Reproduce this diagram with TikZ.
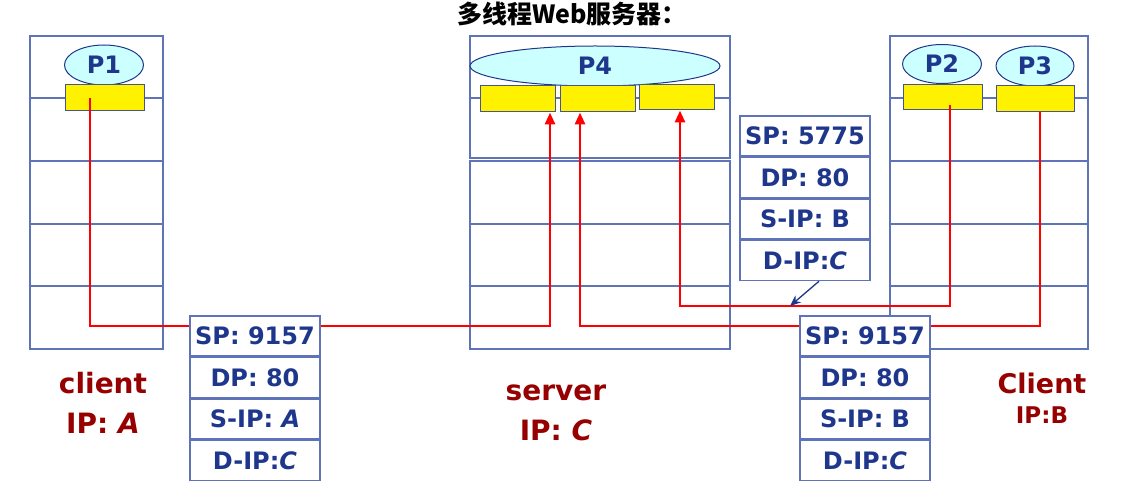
\documentclass[tikz,border=0pt]{standalone}
\usepackage{fontspec}
\setmainfont{DejaVu Sans}
\newfontfamily\cjkfont{Noto Sans CJK SC}
\usetikzlibrary{shapes.geometric,positioning,arrows.meta}
\definecolor{framecol}{RGB}{95,115,185}
\definecolor{navy}{RGB}{30,55,140}
\definecolor{procfill}{RGB}{204,255,255}
\definecolor{sockline}{RGB}{70,85,140}
\definecolor{darkred}{RGB}{150,0,0}
\tikzset{
    host/.style={draw=framecol, line width=1.5pt},
    proc/.style={ellipse, draw=navy, line width=1pt, fill=procfill,
        inner sep=0pt, text=navy, font=\fontsize{24}{28}\selectfont\bfseries},
    sock/.style={rectangle, draw=sockline, line width=1pt, fill=yellow,
        inner sep=0pt, minimum height=26pt},
    field/.style={rectangle, draw=framecol, line width=1.5pt, fill=white,
        inner sep=0pt, minimum width=130pt, minimum height=40pt,
        text=navy, font=\fontsize{24}{28}\selectfont\bfseries},
    redline/.style={red, line width=2.8pt},
    hostlabel/.style={text=darkred, align=center,
        font=\fontsize{28}{40}\selectfont\bfseries}
}
\begin{document}
\begin{tikzpicture}[x=1pt,y=-1pt]
                \useasboundingbox (0,0) rectangle (1135,486);
                \node[font=\cjkfont\fontsize{25}{28}\selectfont\bfseries]
                    (title) at (572,14) {多线程Web服务器：};
                % hosts
                \draw[host] (30,36) rectangle (163,349);
                \draw[host] (470,36) rectangle (730,158);
                \draw[host] (470,161) rectangle (730,349);
                \draw[host] (890,36) rectangle (1088,349);
                \foreach \y in {98,161,224,286}
                    \draw[host] (30,\y) -- (163,\y);
                \foreach \y in {98,224,286}
                    \draw[host] (470,\y) -- (730,\y);
                \foreach \y in {98,161,224,286}
                    \draw[host] (890,\y) -- (1088,\y);
                % processes and sockets
                \node[proc, minimum width=79pt, minimum height=40pt]
                    (p1) at (104,65) {P1};
                \node[sock, minimum width=79pt] (sa) at (104.5,98) {};
                \node[proc, minimum width=250pt, minimum height=40pt]
                    (p4) at (595,66) {P4};
                \node[sock, minimum width=75pt] (sc1) at (517.5,99) {};
                \node[sock, minimum width=75pt] (sc2) at (597.5,99) {};
                \node[sock, minimum width=75pt, minimum height=25pt]
                    (sc3) at (676.5,97.5) {};
                \node[proc, minimum width=79pt, minimum height=39pt]
                    (p2) at (942,64) {P2};
                \node[sock, minimum width=79pt, minimum height=25pt]
                    (sb1) at (942.5,97.5) {};
                \node[proc, minimum width=78pt, minimum height=40pt]
                    (p3) at (1035,66) {P3};
                \node[sock, minimum width=78pt] (sb2) at (1035,99) {};
                % connections
                \coordinate (lowA) at (0,326);
                \coordinate (lowB) at (0,306);
                \coordinate (inA) at ([xshift=32.5pt]sc1.south);
                \coordinate (inB) at ([xshift=-17.5pt]sc2.south);
                \coordinate (inC) at ([xshift=3.5pt]sc3.south);
                \coordinate (outA) at ([xshift=-14.5pt]sa.center);
                \coordinate (outB) at ([xshift=7.5pt,yshift=-8pt]sb1.center);
                \coordinate (outC) at ([xshift=5pt]sb2.south);
                \draw[redline, -{Triangle[length=12pt,width=10pt]}]
                    (outA) -- (outA |- lowA) -- (inA |- lowA) -- (inA);
                \draw[redline, -{Triangle[length=12pt,width=10pt]}]
                    (outC) -- (outC |- lowA) -- (inB |- lowA) -- (inB);
                \draw[redline, -{Triangle[length=12pt,width=10pt]}]
                    (outB) -- (outB |- lowB) -- (inC |- lowB) -- (inC);
                % packets
                \node[field] (a1) at (255,336) {SP: 9157};
                \node[field, below=0pt of a1] (a2) {DP: 80};
                \node[field, below=0pt of a2] (a3) {S-IP: {\itshape A}};
                \node[field, below=0pt of a3] (a4) {D-IP:{\itshape C}};
                \node[field] (b1) at (805,136) {SP: 5775};
                \node[field, below=0pt of b1] (b2) {DP: 80};
                \node[field, below=0pt of b2] (b3) {S-IP: B};
                \node[field, below=0pt of b3] (b4) {D-IP:{\itshape C}};
                \node[field] (c1) at (865,336) {SP: 9157};
                \node[field, below=0pt of c1] (c2) {DP: 80};
                \node[field, below=0pt of c2] (c3) {S-IP: B};
                \node[field, below=0pt of c3] (c4) {D-IP:{\itshape C}};
                \coordinate (tipB) at (790,306);
                \draw[navy, line width=1.3pt, -{Stealth[length=11pt,width=9pt]}]
                    ([xshift=14pt]b4.south) -- (tipB);
                % labels
                \node[hostlabel] (hostA) at (103,403) {client\\IP: {\itshape A}};
                \node[hostlabel] (hostC) at (556,413) {server\\IP: {\itshape C}};
                \node[hostlabel, font=\fontsize{27}{30}\selectfont\bfseries]
                    (hostB) at (1042,383) {Client};
                \node[hostlabel, font=\fontsize{23}{26}\selectfont\bfseries,
                    below=6pt of hostB] (ipB) {IP:B};
            \end{tikzpicture}
\end{document}
